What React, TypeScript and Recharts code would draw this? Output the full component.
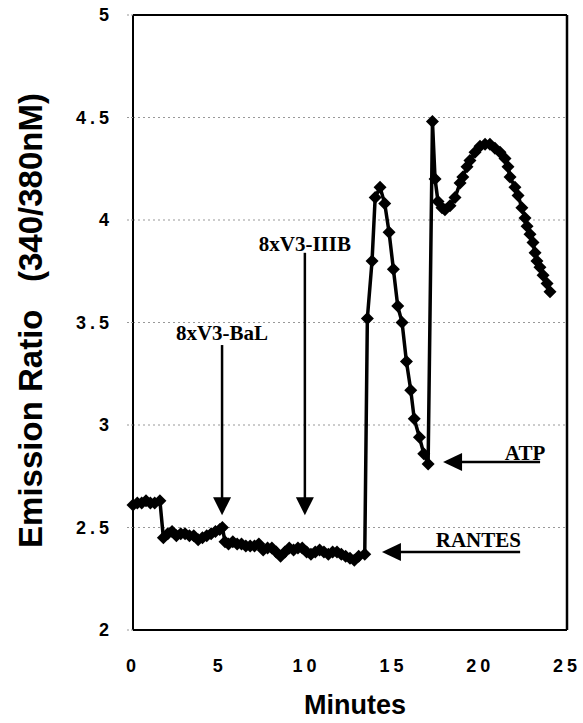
import { LineChart, Line, XAxis, YAxis, CartesianGrid, ReferenceLine, ReferenceDot, Label } from 'recharts';

// sample times (minutes) and emission ratios
const minutes = [
  0, 0.25, 0.5, 0.75, 1.0, 1.25, 1.55,
  1.75, 2.0, 2.25, 2.5, 2.75, 3.0, 3.25, 3.5, 3.75, 4.0, 4.25, 4.5, 4.75, 5.0, 5.15,
  5.3, 5.5, 5.75, 6.0, 6.25, 6.5, 6.75, 7.0, 7.25, 7.5, 7.75, 8.0, 8.25, 8.5, 8.75,
  9.0, 9.25, 9.5, 9.75, 10.0, 10.25, 10.5, 10.75, 11.0, 11.25, 11.5, 11.75, 12.0,
  12.25, 12.5, 12.75, 13.0, 13.35,
  13.5, 13.77, 13.95, 14.23, 14.5, 14.75, 15.0, 15.25, 15.5, 15.75, 16.0, 16.2, 16.5, 16.75, 17.0,
  17.25, 17.4, 17.57, 17.8, 17.97, 18.26, 18.55, 18.84, 19.0, 19.24, 19.41, 19.7, 19.99,
  20.28, 20.56, 20.85, 21.14, 21.43, 21.6, 21.72, 22.0, 22.18, 22.4, 22.58, 22.7, 22.87,
  23.04, 23.16, 23.27, 23.44, 23.62, 23.85, 24.02,
];

const ratios = [
  2.61, 2.62, 2.62, 2.63, 2.62, 2.62, 2.63,
  2.45, 2.47, 2.48, 2.46, 2.47, 2.47, 2.46, 2.46, 2.44, 2.45, 2.46, 2.47, 2.48, 2.49, 2.5,
  2.43, 2.42, 2.43, 2.42, 2.42, 2.41, 2.41, 2.41, 2.42, 2.39, 2.4, 2.4, 2.38, 2.36, 2.38,
  2.4, 2.39, 2.4, 2.4, 2.38, 2.37, 2.38, 2.39, 2.38, 2.37, 2.38, 2.38, 2.37,
  2.36, 2.35, 2.34, 2.36, 2.37,
  3.52, 3.8, 4.11, 4.16, 4.08, 3.94, 3.76, 3.58, 3.5, 3.31, 3.17, 3.03, 2.94, 2.86, 2.81,
  4.48, 4.2, 4.09, 4.06, 4.05, 4.07, 4.11, 4.18, 4.21, 4.26, 4.29, 4.33, 4.36,
  4.37, 4.37, 4.35, 4.33, 4.3, 4.26, 4.21, 4.16, 4.12, 4.06, 4.01, 3.97, 3.93,
  3.89, 3.84, 3.8, 3.77, 3.73, 3.69, 3.65,
];

const xTicks = [0, 5, 10, 15, 20, 25];
const yTicks = [2, 2.5, 3, 3.5, 4, 4.5, 5];

// stimulus additions: downward arrows (x, label y, shaft top, tip)
const downArrows = [
  { label: '8xV3-BaL', x: 5.13, textY: 3.415, top: 3.39, tip: 2.56 },
  { label: '8xV3-IIIB', x: 9.9, textY: 3.85, top: 3.84, tip: 2.56 },
];

// leftward arrows (tip x, tail x, y, label)
const leftArrows = [
  { label: 'ATP', tip: 17.86, tail: 23.45, y: 2.82, textX: 23.75, textY: 2.83 },
  { label: 'RANTES', tip: 14.34, tail: 22.3, y: 2.38, textX: 22.35, textY: 2.405 },
];

const data = minutes.map((t, i) => ({ minutes: t, ratio: ratios[i] }));

const sans = '"Liberation Sans", Arial, sans-serif';
const serif = '"Liberation Serif", "Times New Roman", serif';

const Diamond = (props: any) => {
  const { cx, cy, index } = props;
  if (cx == null || cy == null) return <g key={index} />;
  const r = 6.5;
  return (
    <polygon
      key={index}
      points={`${cx},${cy - r} ${cx + r},${cy} ${cx},${cy + r} ${cx - r},${cy}`}
      fill="#000"
    />
  );
};

const DownHead = (props: any) => {
  const { cx, cy } = props;
  return <polygon points={`${cx},${cy} ${cx - 9},${cy - 18} ${cx + 9},${cy - 18}`} fill="#000" />;
};

const LeftHead = (props: any) => {
  const { cx, cy } = props;
  return <polygon points={`${cx},${cy} ${cx + 19},${cy - 9} ${cx + 19},${cy + 9}`} fill="#000" />;
};

const annotationText = (label: string, anchor: string) => (props: any) => (
  <text
    x={props.cx}
    y={props.cy}
    textAnchor={anchor}
    fontFamily={serif}
    fontWeight="bold"
    fontSize={21}
    fill="#000"
  >
    {label}
  </text>
);

export default function App() {
  const tickStyle = { fill: '#000', fontSize: 18, fontWeight: 'bold', fontFamily: sans, letterSpacing: 4 };
  return (
    <div style={{ position: 'absolute', left: 0, top: 0, background: '#fff' }}>
      <LineChart width={583} height={723} data={data} margin={{ top: 15, right: 16, bottom: 0, left: 0 }}>
        <CartesianGrid vertical={false} stroke="#999" strokeDasharray="2 3" />
        <XAxis
          dataKey="minutes"
          type="number"
          domain={[0, 25]}
          ticks={xTicks}
          tickLine={false}
          tickMargin={23}
          height={93}
          axisLine={{ stroke: '#000', strokeWidth: 2 }}
          tick={tickStyle}
        >
          <Label
            content={({ viewBox }: any) => (
              <text
                x={viewBox.x + viewBox.width / 2 + 5}
                y={viewBox.y + 84}
                textAnchor="middle"
                fontFamily={sans}
                fontWeight="bold"
                fontSize={27}
                fill="#000"
              >
                Minutes
              </text>
            )}
          />
        </XAxis>
        <YAxis
          type="number"
          domain={[2, 5]}
          ticks={yTicks}
          width={133}
          tickSize={6}
          tickMargin={14}
          axisLine={{ stroke: '#000', strokeWidth: 2 }}
          tickLine={{ stroke: '#999', strokeDasharray: '2 2' }}
          tick={tickStyle}
        >
          <Label
            content={({ viewBox }: any) => {
              const cx = viewBox.x + 30;
              const cy = viewBox.y + viewBox.height / 2 - 2;
              return (
                <text
                  x={cx}
                  y={cy}
                  transform={`rotate(-90 ${cx} ${cy})`}
                  textAnchor="middle"
                  dominantBaseline="central"
                  fontFamily={sans}
                  fontWeight="bold"
                  fontSize={33}
                  fill="#000"
                  style={{ whiteSpace: 'pre' }}
                >
                  {'Emission Ratio   (340/380nM)'}
                </text>
              );
            }}
          />
        </YAxis>
        <ReferenceLine y={5} stroke="#000" strokeWidth={2} />
        <ReferenceLine x={25} stroke="#000" strokeWidth={2.5} />

        {downArrows.map((a) => (
          <ReferenceLine
            key={`s-${a.label}`}
            segment={[{ x: a.x, y: a.top }, { x: a.x, y: a.tip + 0.06 }]}
            stroke="#000"
            strokeWidth={2.5}
          />
        ))}
        {downArrows.map((a) => (
          <ReferenceDot key={`h-${a.label}`} x={a.x} y={a.tip} shape={DownHead} />
        ))}
        {downArrows.map((a) => (
          <ReferenceDot key={`t-${a.label}`} x={a.x} y={a.textY} shape={annotationText(a.label, 'middle')} />
        ))}

        {leftArrows.map((a) => (
          <ReferenceLine
            key={`s-${a.label}`}
            segment={[{ x: a.tip + 0.8, y: a.y }, { x: a.tail, y: a.y }]}
            stroke="#000"
            strokeWidth={2.5}
          />
        ))}
        {leftArrows.map((a) => (
          <ReferenceDot key={`h-${a.label}`} x={a.tip} y={a.y} shape={LeftHead} />
        ))}
        {leftArrows.map((a) => (
          <ReferenceDot key={`t-${a.label}`} x={a.textX} y={a.textY} shape={annotationText(a.label, 'end')} />
        ))}

        <Line
          type="linear"
          dataKey="ratio"
          stroke="#000"
          strokeWidth={3.5}
          dot={Diamond}
          activeDot={false}
          isAnimationActive={false}
        />
      </LineChart>
    </div>
  );
}
